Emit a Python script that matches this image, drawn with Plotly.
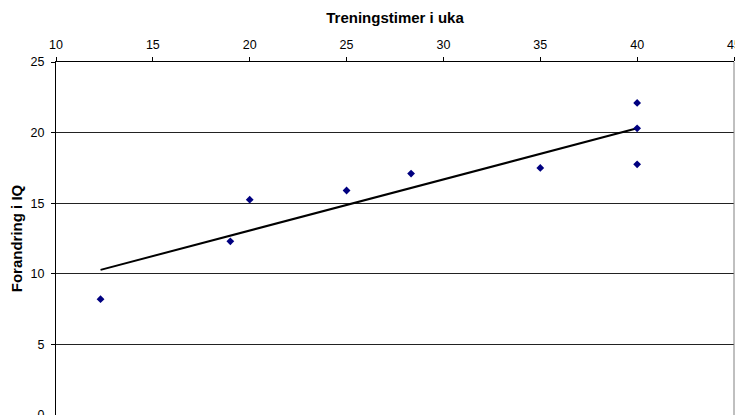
import numpy as np
import plotly.graph_objects as go

timer = [12.3, 19, 20, 25, 28.33, 35, 40, 40, 40]
iq = [8.2, 12.3, 15.25, 15.9, 17.1, 17.5, 22.1, 20.3, 17.75]
x_ticks = [10, 15, 20, 25, 30, 35, 40, 45]
y_ticks = [0, 5, 10, 15, 20, 25]

slope, intercept = np.polyfit(timer, iq, 1)
xt = [min(timer), max(timer)]
yt = [slope * v + intercept for v in xt]

fig = go.Figure()
fig.add_trace(go.Scatter(x=xt, y=yt, mode="lines",
                         line=dict(color="black", width=2), hoverinfo="skip"))
fig.add_trace(go.Scatter(x=timer, y=iq, mode="markers",
                         marker=dict(symbol="diamond", size=6, color="#000080")))

font = "Liberation Sans, Arial, sans-serif"
# page body adds an 8px offset, so the figure is sized to fit the window
fig.update_layout(
    width=735, height=407,
    margin=dict(l=48, r=9, t=54, b=0),
    paper_bgcolor="white", plot_bgcolor="white",
    showlegend=False,
    font=dict(family=font, size=12.5, color="black"),
    xaxis=dict(side="top", range=[10, 45], tickvals=x_ticks,
               showgrid=False, zeroline=False, automargin=False,
               showline=True, linecolor="black", linewidth=1,
               ticks="outside", ticklen=4, tickcolor="black",
               ticklabelstandoff=3, ticklabeloverflow="allow",
               title=dict(text="<b>Treningstimer i uka</b>", font=dict(size=15),
                          standoff=10)),
    yaxis=dict(range=[0, 25], tickvals=y_ticks,
               showgrid=True, gridcolor="#222222", gridwidth=1,
               zeroline=False, automargin=False,
               showline=True, linecolor="black", linewidth=1,
               ticks="outside", ticklen=4, tickcolor="black",
               ticklabelstandoff=4, ticklabeloverflow="allow",
               title=dict(text="<b>Forandring i IQ</b>", font=dict(size=15),
                          standoff=4)),
    shapes=[dict(type="line", xref="paper", yref="paper", x0=1, x1=1, y0=0, y1=1,
                 line=dict(color="#808080", width=1))],
)

fig.write_html("out.html")
